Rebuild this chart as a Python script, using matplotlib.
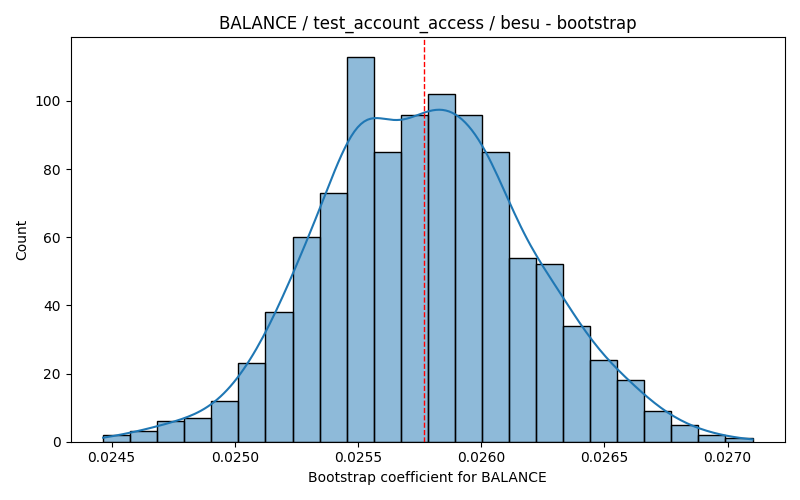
import matplotlib
matplotlib.use("Agg")
import matplotlib.pyplot as plt
import numpy as np
from matplotlib.colors import to_rgba

# histogram (bootstrap coefficients, 1000 resamples)
counts = [2, 3, 6, 7, 12, 23, 38, 60, 73, 113, 85, 96,
          102, 96, 85, 54, 52, 34, 24, 18, 9, 5, 2, 1]
bin_start = 0.024466
bin_stop = 0.027101
mean_coef = 0.025766

title = "BALANCE / test_account_access / besu - bootstrap"
xlabel = "Bootstrap coefficient for BALANCE"

counts = np.array(counts, dtype=float)
edges = np.linspace(bin_start, bin_stop, len(counts) + 1)
width = edges[1] - edges[0]
centers = (edges[:-1] + edges[1:]) / 2

# gaussian kde on the binned values, scott bandwidth, scaled to counts
n = counts.sum()
mu = np.sum(counts * centers) / n
sd = np.sqrt(np.sum(counts * (centers - mu) ** 2) / n + width ** 2 / 12)
bw = sd * n ** (-1 / 5)
grid = np.linspace(edges[0], edges[-1], 200)
dens = np.zeros_like(grid)
for c, w in zip(centers, counts):
    dens += w * np.exp(-0.5 * ((grid - c) / bw) ** 2)
dens = dens / (bw * np.sqrt(2 * np.pi)) * width

fig, ax = plt.subplots(figsize=(8, 5), dpi=100)
ax.bar(edges[:-1], counts, width=width, align="edge",
       facecolor=to_rgba("C0", 0.5), edgecolor="black", linewidth=1)
ax.plot(grid, dens, color="C0", linewidth=1.5)
ax.axvline(mean_coef, color="red", linestyle="--", linewidth=1)

ax.set_title(title)
ax.set_xlabel(xlabel)
ax.set_ylabel("Count")
ax.set_xticks([0.0245, 0.0250, 0.0255, 0.0260, 0.0265, 0.0270])
ax.set_xticklabels(["0.0245", "0.0250", "0.0255", "0.0260", "0.0265", "0.0270"])

fig.tight_layout()
fig.savefig("out.png")
